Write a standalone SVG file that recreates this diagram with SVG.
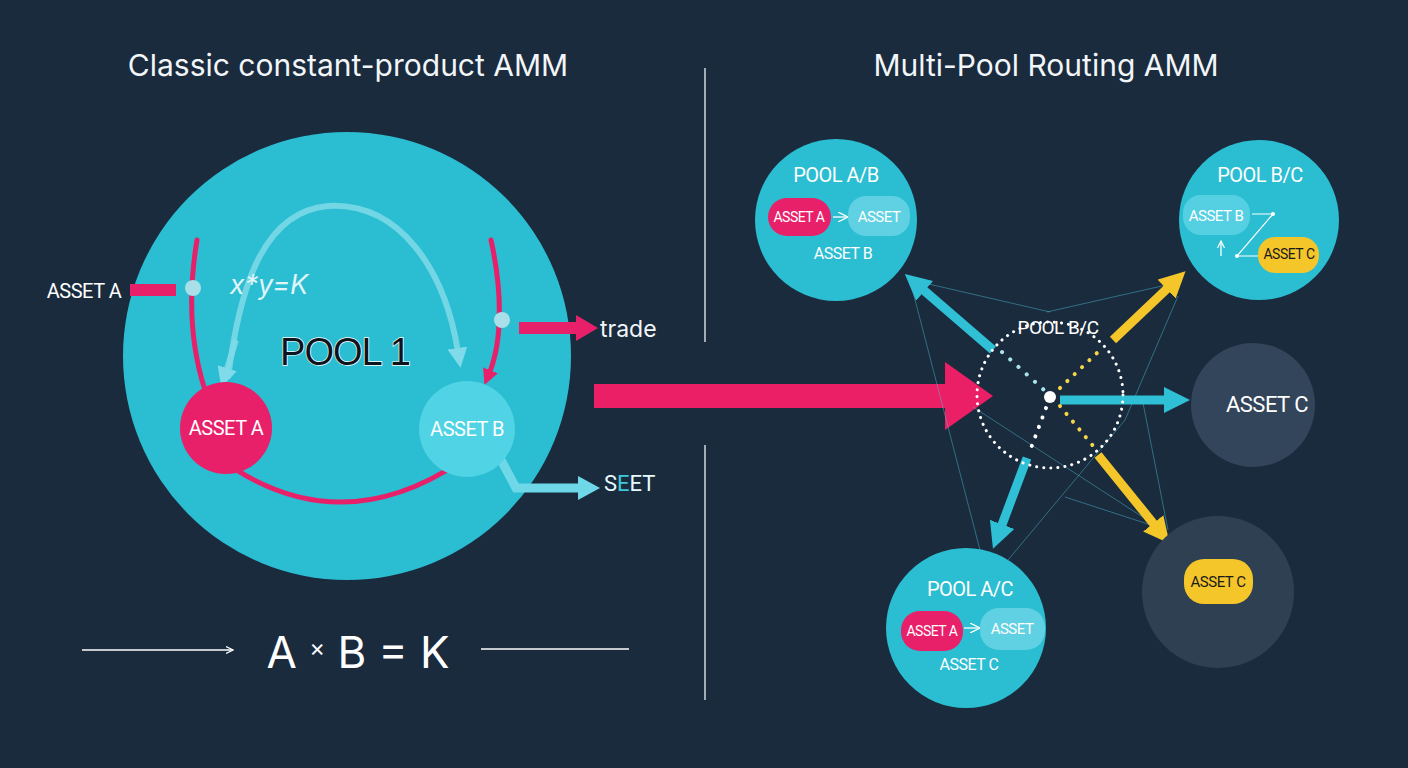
<svg xmlns="http://www.w3.org/2000/svg" width="1408" height="768" viewBox="0 0 1408 768">
<defs>
<style>
.t{font-family:Inter,"Liberation Sans",sans-serif;fill:#f2f6f8}
.l{font-family:Roboto,"Liberation Sans",sans-serif;fill:#ffffff;text-anchor:middle;letter-spacing:-0.5px}
.pool{fill:#2bbdd1}
.dark{fill:#33455a}
.thin{stroke:#4fc3d6;stroke-opacity:0.45;stroke-width:1;fill:none}
</style>
<marker id="mc" viewBox="0 0 26 26" markerWidth="26" markerHeight="26" refX="6" refY="13" orient="auto" markerUnits="userSpaceOnUse"><path d="M0,0 L26,13 L0,26 z" fill="#2fc0d6"/></marker>
<marker id="my" viewBox="0 0 26 26" markerWidth="26" markerHeight="26" refX="6" refY="13" orient="auto" markerUnits="userSpaceOnUse"><path d="M0,0 L26,13 L0,26 z" fill="#f5c62a"/></marker>
<marker id="ml" viewBox="0 0 20 20" markerWidth="20" markerHeight="20" refX="4" refY="10" orient="auto" markerUnits="userSpaceOnUse"><path d="M0,0 L20,10 L0,20 z" fill="#7fdbe9"/></marker>
<marker id="mp" viewBox="0 0 16 16" markerWidth="16" markerHeight="16" refX="4" refY="8" orient="auto" markerUnits="userSpaceOnUse"><path d="M0,0 L16,8 L0,16 z" fill="#e8206a"/></marker>
<marker id="mw" viewBox="0 0 10 10" markerWidth="10" markerHeight="10" refX="8" refY="5" orient="auto" markerUnits="userSpaceOnUse"><path d="M0,0 L10,5 L0,10" fill="none" stroke="#fff" stroke-width="1.3"/></marker>
<marker id="ms" viewBox="0 0 8 8" markerWidth="8" markerHeight="8" refX="7" refY="4" orient="auto" markerUnits="userSpaceOnUse"><path d="M0,0.5 L7,4 L0,7.5" fill="none" stroke="#fff" stroke-width="1.2"/></marker>
</defs>
<rect width="1408" height="768" fill="#1a2b3e"/>

<g id="titles">
<text class="t" x="348" y="76" font-size="30" text-anchor="middle">Classic constant-product AMM</text>
<text class="t" x="1046" y="76" font-size="30" text-anchor="middle">Multi-Pool Routing AMM</text>
</g>

<g id="divider" stroke="#cfd8df" stroke-width="1.5">
<line x1="705" y1="68" x2="705" y2="342"/>
<line x1="705" y1="445" x2="705" y2="700"/>
</g>

<g id="pool1">
<circle class="pool" cx="347" cy="356" r="224"/>
</g>

<g id="connectors">
<path d="M228,378 C238,300 258,212 328,206 C400,202 445,270 458,352" fill="none" stroke="#7fdbe9" stroke-opacity="0.85" stroke-width="6" marker-end="url(#ml)"/>
<path d="M236,340 L226,372" fill="none" stroke="#7fdbe9" stroke-opacity="0.85" stroke-width="6" marker-end="url(#ml)"/>
<path d="M197,240 C187,300 192,350 205,390" fill="none" stroke="#e8206a" stroke-width="5" stroke-linecap="round"/>
<path d="M491,240 C502,290 503,340 489,374" fill="none" stroke="#e8206a" stroke-width="5" stroke-linecap="round" marker-end="url(#mp)"/>
<path d="M216,456 Q335,545 460,462" fill="none" stroke="#e8206a" stroke-width="5"/>
<rect x="130" y="284" width="46" height="12" fill="#e8206a"/>
<circle cx="193" cy="288" r="8" fill="#a9dfe8"/>
<circle cx="502" cy="320" r="8" fill="#a9dfe8"/>
<polygon points="519,322 576,322 576,315 598,328 576,341 576,334 519,334" fill="#e8206a"/>
<path d="M500,458 L516,488 L580,488" fill="none" stroke="#6fd8e8" stroke-width="9"/>
<polygon points="578,476 600,488 578,500" fill="#6fd8e8"/>

<polygon points="594,384 945,384 945,362 993,396 945,430 945,408 594,408" fill="#ea1f66"/>

<line x1="82" y1="650" x2="233" y2="650" stroke="#fff" stroke-width="1.5" marker-end="url(#ms)"/>
<line x1="481" y1="649" x2="629" y2="649" stroke="#fff" stroke-width="1.5"/>

<line class="thin" x1="920" y1="282" x2="1050" y2="312"/>
<line class="thin" x1="1047" y1="312" x2="1175" y2="283"/>
<line class="thin" x1="913" y1="292" x2="980" y2="550"/>
<line class="thin" x1="1178" y1="296" x2="1125" y2="420"/>
<line class="thin" x1="1125" y1="420" x2="1008" y2="560"/>
<line class="thin" x1="1143" y1="403" x2="1168" y2="530"/>
<line class="thin" x1="973" y1="407" x2="1155" y2="525"/>
<line class="thin" x1="1065" y1="497" x2="1157" y2="527"/>

<line x1="993" y1="350" x2="920" y2="287" stroke="#2fc0d6" stroke-width="9" marker-end="url(#mc)"/>
<line x1="1113" y1="340" x2="1171" y2="285" stroke="#f5c62a" stroke-width="9" marker-end="url(#my)"/>
<line x1="1060" y1="400" x2="1170" y2="400" stroke="#2fc0d6" stroke-width="9" marker-end="url(#mc)"/>
<line x1="1027" y1="458" x2="1000" y2="530" stroke="#2fc0d6" stroke-width="9" marker-end="url(#mc)"/>
<line x1="1098" y1="455" x2="1157" y2="528" stroke="#f5c62a" stroke-width="9" marker-end="url(#my)"/>

<circle cx="1050" cy="395" r="73" fill="none" stroke="#ffffff" stroke-width="3" stroke-dasharray="0.1 7" stroke-linecap="round"/>
<line x1="1002" y1="352" x2="1044" y2="390" stroke="#a9e4ee" stroke-width="4" stroke-dasharray="0.1 11" stroke-linecap="round"/>
<line x1="1046" y1="408" x2="1031" y2="448" stroke="#ffffff" stroke-width="4" stroke-dasharray="0.1 10" stroke-linecap="round"/>
<line x1="1060" y1="388" x2="1098" y2="352" stroke="#f5d54a" stroke-width="4" stroke-dasharray="0.1 10" stroke-linecap="round"/>
<line x1="1060" y1="406" x2="1094" y2="447" stroke="#f5d54a" stroke-width="4" stroke-dasharray="0.1 10" stroke-linecap="round"/>
<circle cx="1050" cy="397" r="6" fill="#ffffff"/>
</g>

<g id="pool1-labels">
<text x="269" y="294" font-family="Inter,'Liberation Sans',sans-serif" font-size="27" font-style="italic" fill="#dff5f9" text-anchor="middle">x*y=K</text>
<text x="345" y="365" font-family="'Liberation Sans',Arial,sans-serif" font-size="38" fill="#0c1420" stroke="#ffffff" stroke-width="1.4" paint-order="stroke" text-anchor="middle" letter-spacing="-1">POOL 1</text>
<text x="84" y="298" class="l" font-size="20">ASSET A</text>
<text x="600" y="337" class="t" font-size="23">trade</text>
<text x="604" y="491" font-family="Roboto,'Liberation Sans',sans-serif" font-size="22" fill="#e6fbfd">S<tspan fill="#3fc7dc">E</tspan>ET</text>
</g>

<g id="asset-a">
<circle cx="226" cy="428" r="46" fill="#e8206a"/>
<text x="226" y="435" class="l" font-size="20">ASSET A</text>
</g>
<g id="asset-b">
<circle cx="467" cy="429" r="48" fill="#4fd3e5"/>
<text x="467" y="436" class="l" font-size="20">ASSET B</text>
</g>

<g id="formula">
<text x="358" y="668" font-family="Inter,'Liberation Sans',sans-serif" font-size="44" fill="#ffffff" text-anchor="middle">A <tspan font-size="24" dy="-12">×</tspan><tspan dy="12"> B = K</tspan></text>
</g>

<g id="pool-ab">
<circle class="pool" cx="836" cy="220" r="81"/>
<text x="836" y="182" class="l" font-size="20">POOL A/B</text>
<rect x="768" y="198" width="63" height="38" rx="19" fill="#e8206a"/>
<text x="799" y="222" class="l" font-size="14">ASSET A</text>
<line x1="833" y1="217" x2="846" y2="217" stroke="#fff" stroke-width="1.3" marker-end="url(#mw)"/>
<rect x="848" y="196" width="62" height="40" rx="18" fill="#5fd1e2"/>
<text x="879" y="222" class="l" font-size="15">ASSET</text>
<text x="843" y="259" class="l" font-size="16">ASSET B</text>
</g>

<g id="pool-bc">
<circle class="pool" cx="1259" cy="220" r="80"/>
<text x="1260" y="182" class="l" font-size="20">POOL B/C</text>
<rect x="1183" y="195" width="67" height="40" rx="18" fill="#55d0e2"/>
<text x="1216" y="221" class="l" font-size="15">ASSET B</text>
<polyline points="1252,214 1273,214 1237,256 1258,256" fill="none" stroke="#fff" stroke-width="1.2"/>
<circle cx="1273" cy="214" r="2" fill="#fff"/>
<circle cx="1237" cy="256" r="2" fill="#fff"/>
<line x1="1221" y1="256" x2="1221" y2="241" stroke="#fff" stroke-width="1.3" marker-end="url(#ms)"/>
<rect x="1258" y="237" width="61" height="36" rx="17" fill="#f5c62a"/>
<text x="1289" y="259" class="l" font-size="14" style="fill:#1a1a1a">ASSET C</text>
</g>

<g id="hub">
<text x="1058" y="334" class="l" font-size="19">POOL B/C</text>
</g>

<g id="asset-c">
<circle class="dark" cx="1253" cy="405" r="62"/>
<text x="1267" y="412" class="l" font-size="22">ASSET C</text>
</g>

<g id="asset-c-pool">
<circle cx="1218" cy="592" r="76" fill="#2f4053"/>
<rect x="1184" y="559" width="69" height="45" rx="20" fill="#f5c62a"/>
<text x="1218" y="587" class="l" font-size="15" style="fill:#1a1a1a">ASSET C</text>
</g>

<g id="pool-ac">
<circle class="pool" cx="966" cy="628" r="80"/>
<text x="970" y="596" class="l" font-size="20">POOL A/C</text>
<rect x="901" y="611" width="62" height="40" rx="19" fill="#e8206a"/>
<text x="932" y="636" class="l" font-size="14">ASSET A</text>
<line x1="964" y1="628" x2="978" y2="628" stroke="#fff" stroke-width="1.3" marker-end="url(#mw)"/>
<rect x="980" y="608" width="65" height="42" rx="19" fill="#5fd1e2"/>
<text x="1012" y="634" class="l" font-size="15">ASSET</text>
<text x="969" y="670" class="l" font-size="16">ASSET C</text>
</g>
</svg>
